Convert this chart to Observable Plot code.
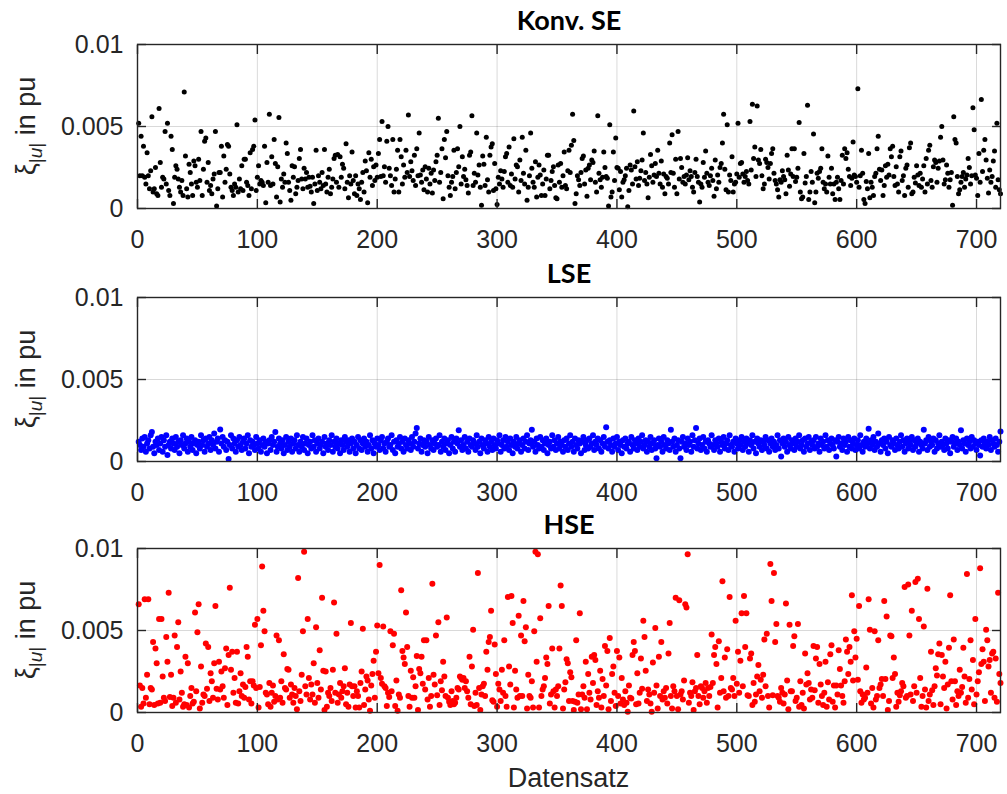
<!DOCTYPE html>
<html><head><meta charset="utf-8">
<script src="https://cdn.jsdelivr.net/npm/d3@7"></script>
<script src="https://cdn.jsdelivr.net/npm/@observablehq/plot@0.6"></script>
<style>
body{margin:0;background:#fff;}
#root{position:relative;width:1007px;height:794px;background:#fff;overflow:hidden;}
.panel{position:absolute;left:0;}
#xlabel{position:absolute;left:137px;width:863px;top:765px;line-height:27px;text-align:center;font-size:27px;color:#262626;font-family:"Liberation Sans",Arial,sans-serif;}
</style></head><body><div id="root"><div id="xlabel">Datensatz</div></div>
<script>
const titles = ["Konv. SE", "LSE", "HSE"];
const colors = ["#000000", "#0000ff", "#ff0000"];
const xTicks = [0, 100, 200, 300, 400, 500, 600, 700];
const yTicks = [0, 0.005, 0.01];
const yTickLabels = ["0", "0.005", "0.01"];
const xLabel = "Datensatz";
const unit = 1e-3; // values below are in 10^-3 pu

const konvSE = [
5.2,2.0,4.4,2.0,3.8,1.9,1.5,3.4,2.0,1.2,
2.3,5.6,1.0,1.2,2.5,0.9,0.8,6.1,2.8,1.3,
1.9,1.8,4.7,1.5,5.2,1.1,0.8,4.4,3.6,0.3,
1.9,2.6,2.4,1.8,1.3,1.0,1.7,0.8,7.1,3.2,
1.2,0.7,2.7,2.2,1.5,0.8,2.9,2.6,1.6,1.3,
3.0,1.7,4.7,0.8,2.4,4.1,4.3,1.6,2.8,1.1,
1.4,0.9,1.8,2.1,4.7,0.15,1.2,2.2,2.2,3.8,
0.7,3.2,1.6,2.4,3.9,3.8,2.1,1.3,1.1,0.8,
1.5,1.3,5.1,1.0,1.8,1.2,2.6,1.1,3.0,3.0,
1.6,1.4,0.8,3.4,1.2,3.6,3.8,5.4,1.1,1.9,
2.6,1.5,1.7,1.6,1.4,3.8,0.35,2.8,1.6,5.75,
1.4,3.15,1.5,4.2,2.75,0.7,2.55,5.55,0.4,1.8,
1.3,2.1,1.6,4.0,3.35,1.6,1.1,0.5,2.6,1.9,
2.55,0.9,1.3,1.7,3.05,3.6,1.8,1.2,2.45,1.8,
2.2,1.3,1.9,1.35,1.0,1.9,0.3,1.5,3.55,1.1,
2.0,1.6,1.2,2.2,1.4,3.6,1.5,1.0,1.9,2.4,
0.9,1.3,1.8,3.05,3.25,1.6,3.3,1.3,3.15,1.9,
2.7,2.45,1.2,3.95,1.6,0.65,2.0,1.5,3.45,1.7,
0.9,2.0,0.8,1.5,1.2,0.55,1.6,2.2,1.0,2.9,
2.3,0.35,3.4,1.9,3.0,1.4,2.55,1.7,2.65,1.9,
3.35,4.2,1.95,5.3,2.0,2.55,1.6,4.1,5.0,2.45,
2.0,1.4,4.2,1.0,1.8,2.4,3.55,1.0,4.2,3.15,
1.5,2.65,1.9,3.55,2.2,5.7,1.95,2.85,2.3,1.7,
3.25,1.4,3.65,2.0,4.6,2.05,1.6,2.35,1.15,2.55,
1.8,1.0,2.45,1.5,2.15,0.95,2.35,1.7,2.85,3.25,
5.5,1.6,2.2,3.65,0.6,4.2,3.1,4.7,2.0,1.3,
0.8,1.6,1.95,3.55,1.2,2.2,3.65,2.55,5.0,1.5,
3.15,1.95,2.4,1.75,1.4,0.95,3.25,3.45,5.65,1.4,
2.15,1.6,4.6,2.05,2.65,1.3,0.2,3.2,2.7,1.4,
4.35,1.75,1.0,3.25,3.75,3.95,1.1,2.75,1.2,0.25,
1.9,1.5,2.3,1.8,1.3,2.25,3.15,3.35,1.6,3.75,
1.4,2.1,1.3,4.25,1.8,2.65,2.55,1.0,2.95,1.7,
4.35,2.15,1.5,3.55,0.5,1.3,2.0,4.6,2.45,1.6,
1.3,2.85,0.7,1.9,2.65,2.05,0.8,1.5,2.35,0.8,
1.8,3.25,3.25,1.2,1.7,2.25,2.55,1.4,0.65,0.6,
2.65,1.6,2.75,1.3,2.0,3.45,1.4,1.2,2.3,3.55,
2.2,3.85,5.75,4.15,0.3,0.9,2.0,1.75,1.4,2.2,
3.05,3.2,1.5,2.35,0.75,2.45,2.65,1.75,2.95,2.8,
3.5,1.6,1.0,5.65,2.15,1.75,1.3,1.9,3.45,2.5,
1.95,1.85,0.15,5.1,0.7,1.0,3.45,1.7,4.3,2.5,
2.45,1.15,2.25,0.7,1.6,1.75,2.0,2.45,0.1,1.1,
2.65,2.35,1.5,5.95,2.55,1.8,2.85,1.4,1.85,2.3,
2.95,4.6,1.7,2.2,1.5,0.65,1.9,3.3,2.6,1.6,
2.05,2.75,1.95,3.55,2.15,1.5,2.9,1.3,2.1,0.9,
1.95,1.85,1.5,4.0,2.2,4.5,2.15,1.3,3.0,0.9,
4.7,1.8,3.05,2.5,1.6,1.95,1.5,2.05,3.1,1.75,
2.3,1.95,1.3,1.0,2.2,3.0,1.95,1.6,0.4,1.5,
1.3,2.8,1.9,3.5,2.15,1.6,1.4,2.0,2.45,1.7,
0.75,2.95,1.2,2.05,1.6,2.5,2.75,4.0,5.75,2.4,
1.15,5.1,1.0,2.05,1.7,3.15,1.0,1.5,1.6,2.1,
5.2,1.9,2.75,2.8,2.1,1.6,1.95,2.25,1.7,1.5,
5.3,2.35,6.35,3.05,3.75,1.95,6.25,2.95,2.75,3.6,
2.0,1.2,1.5,3.0,2.8,2.5,1.8,2.75,3.35,3.65,
2.15,1.7,1.5,1.15,0.7,1.75,1.6,2.3,1.95,1.75,
0.9,3.25,2.35,1.35,2.1,3.65,1.95,3.65,1.65,1.9,
2.45,5.25,1.0,0.6,0.7,3.35,1.55,1.95,6.3,0.55,
1.0,2.25,1.6,4.55,0.35,1.0,2.15,1.85,2.25,2.45,
3.65,1.6,1.2,1.5,1.0,3.2,1.9,1.5,2.45,0.9,
1.5,0.55,1.6,1.9,1.2,0.55,1.7,3.25,1.5,3.65,
3.05,3.4,2.4,1.95,1.4,1.85,4.05,2.05,1.95,1.6,
7.3,1.3,2.0,3.55,2.15,0.55,0.3,1.65,1.2,3.35,
0.65,1.6,1.3,0.8,1.95,2.15,3.65,4.4,2.4,1.7,
2.35,0.8,1.4,2.6,1.9,2.7,2.05,3.65,3.15,3.8,
1.95,1.4,2.55,1.5,1.0,3.15,3.5,1.7,2.0,0.8,
2.45,2.65,1.3,3.7,4.0,0.9,1.0,1.9,1.55,2.6,
2.05,1.4,2.15,1.3,1.8,2.6,1.0,3.05,1.5,3.55,
3.85,1.7,1.3,2.55,2.95,2.8,1.6,2.45,2.9,4.35,
5.0,2.95,1.5,1.75,2.65,2.15,1.3,1.75,2.2,0.2,
5.6,4.2,4.0,1.95,0.9,1.15,1.6,1.95,2.2,1.3,
1.8,2.05,3.05,2.5,1.5,2.0,6.15,4.8,2.05,1.85,
0.8,3.35,1.6,6.65,2.25,3.55,4.2,2.95,1.85,0.95,
2.35,1.6,1.95,2.9,3.5,1.3,5.2,1.75,1.15,0.9
];

const lse = [
1.2,1.0,0.7,1.4,0.9,1.5,0.6,1.1,1.3,0.8,
1.6,1.8,0.9,0.5,1.2,1.0,1.4,0.7,1.1,1.5,
0.6,1.3,0.9,1.6,0.4,1.0,1.2,0.8,1.4,1.1,
0.7,1.5,0.9,1.2,0.5,1.3,1.0,1.6,0.8,1.1,
1.4,0.6,1.2,0.9,1.5,0.7,1.1,1.3,0.5,1.0,
1.2,0.8,1.6,1.0,1.3,0.6,1.4,0.9,1.1,1.5,
0.7,1.3,1.0,1.7,0.8,1.2,1.4,0.6,1.95,1.1,
1.5,0.9,1.3,0.7,1.2,0.16,1.0,1.6,0.8,1.4,
1.1,0.6,1.3,0.9,1.5,1.0,0.7,1.2,1.4,0.8,
1.1,1.6,0.5,1.3,0.9,1.2,1.0,0.7,1.5,1.1,
0.8,1.3,0.6,1.0,1.4,0.9,1.2,0.5,1.1,1.3,
0.7,1.5,1.0,1.2,1.8,0.6,0.9,1.4,1.1,0.8,
1.3,0.5,1.0,1.5,0.7,1.2,0.9,1.4,0.6,1.1,
1.3,0.8,1.6,1.0,0.6,1.2,0.9,1.5,0.7,1.1,
1.4,0.5,1.0,1.2,0.8,1.6,0.9,1.3,0.6,1.1,
1.4,0.8,1.0,1.2,0.5,1.5,0.9,1.1,0.7,1.3,
1.0,1.6,0.6,1.2,0.9,1.4,0.8,1.1,0.5,1.3,
1.0,0.7,1.5,1.2,0.9,1.3,0.6,1.1,1.4,0.8,
1.2,0.5,1.0,1.5,0.8,1.3,0.7,1.1,1.4,0.9,
1.2,0.6,1.0,1.6,0.8,1.3,0.5,1.1,0.9,1.4,
1.0,0.7,1.3,1.5,0.8,1.1,0.6,1.2,1.4,0.9,
1.0,1.6,0.7,1.2,0.5,1.3,0.9,1.1,1.5,0.8,
1.2,0.6,1.4,1.0,0.8,1.3,1.1,0.7,1.5,0.9,
1.2,1.7,2.05,0.8,1.1,1.4,0.6,1.0,1.3,0.9,
1.2,0.5,1.5,1.0,0.8,1.3,0.7,1.1,1.4,0.9,
1.0,1.6,0.6,1.2,0.9,1.4,0.7,1.1,1.3,0.5,
1.0,1.5,0.8,1.2,0.6,1.4,1.1,1.9,0.9,1.3,
0.7,1.0,1.5,0.8,1.2,0.6,1.4,1.0,0.9,1.3,
1.1,0.7,1.6,0.9,1.2,0.5,1.4,1.0,0.8,1.3,
1.1,0.6,1.5,0.9,1.2,0.7,1.4,1.0,0.8,1.3,
1.1,1.6,0.6,1.0,1.3,0.8,1.5,0.9,1.2,0.7,
1.4,1.0,0.5,1.2,0.9,1.5,0.8,1.1,1.3,0.6,
1.0,1.4,0.8,1.2,1.6,0.7,1.1,1.3,1.93,0.9,
1.2,0.6,1.4,1.0,0.8,1.5,0.9,1.3,0.7,1.1,
1.4,0.5,1.0,1.2,0.8,1.6,0.9,1.3,0.7,1.1,
1.5,0.8,1.2,1.0,0.6,1.3,0.9,1.4,0.7,1.1,
1.6,0.9,1.2,0.6,1.4,1.0,0.8,1.3,1.1,0.5,
1.2,1.5,0.7,1.0,1.3,0.8,1.4,0.9,1.1,1.6,
0.7,1.2,1.0,1.4,0.8,1.3,0.6,1.1,1.5,0.9,
2.09,1.2,0.8,1.3,1.0,0.6,1.4,0.9,1.1,1.5,
0.7,1.2,1.0,0.5,1.3,0.9,1.4,0.8,1.1,1.2,
0.6,1.5,1.0,0.8,1.3,1.1,0.7,1.4,0.9,1.2,
1.6,0.8,1.0,1.3,0.6,1.2,0.9,1.5,0.7,1.1,
1.3,0.8,0.2,1.0,1.4,0.9,1.2,0.6,1.5,1.0,
0.8,1.3,1.1,0.7,1.93,1.2,0.9,1.4,0.6,1.0,
1.3,0.8,0.2,1.2,1.5,0.9,1.1,0.7,1.4,1.0,
1.2,0.6,1.6,0.9,1.3,2.05,0.8,1.1,1.4,0.7,
1.0,1.5,0.8,1.2,0.6,1.3,1.1,0.9,1.6,1.0,
0.7,1.3,1.1,0.9,1.4,0.6,1.2,1.0,1.5,0.8,
1.1,1.3,0.7,1.6,1.0,0.9,1.2,0.6,1.4,1.1,
0.8,1.3,1.0,1.5,0.7,1.2,0.9,1.4,1.1,0.6,
1.3,1.0,1.6,0.8,1.2,0.5,1.4,1.1,0.9,1.3,
0.7,1.2,1.0,1.5,0.8,1.3,0.6,1.1,1.4,0.9,
1.2,0.7,1.0,1.6,0.8,1.3,0.3,1.1,1.4,0.9,
1.2,0.6,1.5,1.0,0.8,1.3,1.1,0.7,1.4,0.9,
1.2,1.6,0.8,1.0,1.3,0.6,1.4,0.9,1.1,1.5,
0.7,1.2,1.0,1.3,0.8,1.5,0.9,1.1,0.6,1.4,
1.0,1.2,0.8,1.6,0.9,1.3,0.7,1.1,1.4,1.0,
0.8,1.3,0.3,1.2,1.5,0.9,1.1,0.7,1.4,1.0,
1.2,0.6,1.5,0.9,1.3,0.8,1.1,1.4,0.7,1.0,
1.3,0.8,1.6,1.0,0.6,1.2,0.9,1.4,1.1,2.0,
0.8,1.3,1.0,1.5,0.7,1.2,0.9,1.7,1.1,0.6,
1.3,1.0,1.4,0.8,1.2,0.5,1.5,1.0,0.9,1.3,
1.1,0.7,1.4,1.0,0.8,1.2,1.6,0.9,1.3,0.6,
1.1,1.4,0.8,1.2,1.0,1.5,0.7,1.3,0.9,1.1,
1.4,0.6,1.2,1.0,0.8,1.93,1.1,1.3,0.7,1.5,
0.9,1.2,1.0,1.4,0.6,1.3,0.8,1.1,1.6,0.9,
1.2,1.0,0.7,1.4,1.1,0.8,1.3,0.5,1.2,1.5,
0.9,1.1,1.4,0.7,1.2,1.0,1.9,0.8,1.3,1.1,
0.6,1.4,1.0,1.2,0.8,1.5,0.9,1.3,1.1,0.7,
1.2,1.0,0.37,1.3,0.9,1.4,1.1,0.8,1.2,1.0,
1.5,0.7,1.3,1.1,0.9,1.4,1.0,0.6,1.2,1.83
];

const hse = [
6.6,1.65,0.35,1.5,0.55,6.9,0.9,2.3,6.9,0.5,
1.5,1.4,4.3,0.45,3.9,3.0,0.55,5.7,0.6,5.7,
2.2,0.9,0.7,4.6,3.1,7.3,0.95,2.3,0.4,0.9,
4.7,0.6,4.0,5.5,0.8,2.5,1.2,0.35,0.5,3.4,
0.45,3.0,0.3,1.0,1.5,0.55,0.65,6.1,1.3,4.9,
6.6,0.25,2.8,0.6,1.1,1.0,4.2,1.45,4.0,0.7,
2.4,1.9,0.9,3.0,6.5,1.45,0.8,3.1,1.4,2.5,
1.6,0.9,2.7,3.9,0.45,3.5,7.6,2.6,3.7,1.2,
2.1,0.6,3.7,0.55,1.3,2.4,1.0,1.7,0.9,1.55,
4.0,3.4,0.8,1.9,0.55,1.9,1.65,5.35,1.5,5.7,
0.3,1.55,4.1,8.9,6.2,4.95,1.2,1.1,0.5,1.8,
0.35,1.2,1.65,0.65,1.0,4.7,0.8,4.4,0.9,1.9,
0.6,3.55,1.5,1.4,2.65,2.6,0.9,1.7,1.1,0.6,
1.5,1.0,0.2,8.2,1.3,0.7,2.3,4.95,9.8,1.6,
1.1,5.7,2.1,0.8,1.7,1.1,3.0,0.6,5.2,1.8,
0.9,3.8,1.4,7.0,2.55,0.15,2.5,0.35,1.2,1.0,
1.5,0.7,2.6,6.7,1.2,4.8,0.6,1.1,1.8,0.9,
1.3,1.6,2.7,0.5,1.2,0.35,1.7,5.45,1.6,1.0,
1.6,0.3,1.3,1.0,0.3,1.8,2.5,5.1,0.45,1.4,
2.2,1.95,0.8,0.1,1.65,2.35,3.15,0.9,3.7,5.3,
2.4,9.0,2.1,1.75,5.25,1.6,1.5,0.4,1.2,0.95,
4.95,1.3,4.1,4.8,0.4,1.95,0.1,1.1,0.9,7.45,
3.75,3.35,2.95,6.1,4.0,1.0,0.35,2.55,0.9,2.15,
0.9,1.6,3.45,0.15,2.65,2.4,3.4,1.75,4.4,1.4,
4.4,0.8,2.1,0.35,1.0,7.85,2.3,1.7,4.7,1.05,
5.5,0.45,1.9,1.35,3.1,2.2,1.0,5.8,0.9,0.65,
0.45,1.3,0.7,0.5,0.6,0.9,1.5,1.4,2.2,2.1,
2.0,2.1,1.5,1.9,1.3,0.9,3.4,0.5,2.8,5.05,
0.4,1.2,0.45,8.5,1.5,0.15,1.1,1.6,1.75,1.0,
3.7,2.6,4.3,4.6,6.2,0.75,0.65,4.15,2.35,0.35,
1.75,1.4,0.7,2.6,1.2,4.4,1.0,0.35,7.05,2.8,
1.7,7.1,5.45,0.3,2.55,1.4,0.9,5.9,1.0,4.7,
1.0,6.8,4.35,5.2,0.25,2.3,1.0,0.9,1.9,0.3,
4.95,9.8,3.1,9.65,0.3,5.75,1.0,1.4,1.6,2.1,
3.35,2.95,6.5,0.55,1.1,3.9,1.3,0.3,1.4,1.0,
1.6,3.9,7.75,6.5,0.25,1.4,1.85,3.25,3.0,0.7,
2.45,2.15,0.7,0.15,0.65,4.4,0.6,1.1,6.05,0.2,
1.1,1.6,0.9,3.1,0.2,2.35,1.2,0.8,3.4,1.8,
3.5,3.2,0.45,1.3,0.9,2.55,0.3,2.05,1.0,4.05,
1.65,3.75,0.2,4.55,0.7,2.35,2.8,1.2,0.4,3.75,
1.0,3.35,0.55,2.1,0.8,0.45,1.3,0.6,0.05,1.65,
0.9,0.85,3.5,4.3,3.75,0.5,2.4,0.55,1.2,3.3,
1.45,5.6,4.6,2.55,0.7,1.4,1.1,0.55,0.05,3.05,
1.2,5.15,1.65,0.25,3.4,1.0,4.3,0.8,1.3,0.9,
1.5,0.55,3.6,5.45,1.0,0.25,1.6,1.3,7.0,1.0,
0.2,6.85,1.1,1.3,0.8,1.95,6.6,6.4,9.65,0.6,
1.2,1.0,1.85,0.15,1.3,1.5,3.5,1.0,0.5,1.6,
1.5,0.9,1.3,1.8,0.6,1.5,1.0,1.55,4.75,1.8,
3.5,4.0,2.95,0.3,4.35,1.2,2.1,8.0,1.3,3.35,
0.9,3.85,1.0,7.05,1.5,1.4,2.1,1.0,5.6,1.75,
3.7,1.2,3.15,6.05,1.6,7.1,4.0,6.05,1.05,1.0,
3.3,3.6,0.45,1.8,0.65,1.1,2.2,2.9,1.3,2.0,
0.9,2.3,4.45,1.6,4.8,1.0,0.3,9.05,6.8,1.05,
8.5,4.3,5.4,1.0,0.9,0.65,1.5,1.2,0.55,1.1,
6.65,1.95,0.2,5.35,1.3,1.3,4.05,4.65,0.7,0.9,
5.4,0.35,1.9,0.45,1.2,0.25,3.6,1.7,2.4,1.8,
0.8,1.4,0.9,4.05,1.35,3.3,4.0,0.6,2.95,1.7,
1.0,0.45,1.2,3.1,0.35,1.85,0.8,3.55,4.1,0.65,
1.65,0.3,1.65,1.1,3.8,2.65,1.65,1.0,0.6,1.9,
4.45,3.7,2.35,4.0,3.1,7.15,1.95,4.95,3.35,4.5,
2.0,6.5,1.3,0.6,1.1,0.8,0.9,2.75,1.2,6.9,
5.05,0.55,1.5,0.3,4.95,0.8,1.0,4.4,1.5,1.7,
2.05,1.0,6.8,2.05,5.85,0.15,0.7,4.7,4.65,2.1,
3.35,2.35,0.35,1.2,0.65,1.05,1.3,1.8,1.6,7.65,
0.9,1.0,7.8,4.7,1.1,6.2,0.7,1.6,7.95,1.2,
8.15,5.7,2.1,0.35,1.0,5.25,1.4,0.3,7.55,0.7,
1.1,3.7,1.35,0.45,1.6,2.7,2.25,3.55,4.2,0.5,
3.5,2.2,1.5,3.1,0.25,1.7,3.95,7.15,1.9,0.8,
4.45,1.9,0.45,1.3,1.0,2.6,1.2,1.55,3.95,2.2,
0.6,8.45,0.9,2.05,4.4,1.4,3.2,0.5,5.7,1.1,
1.9,2.45,8.8,2.95,3.85,3.1,0.7,5.05,4.4,2.8,
3.2,1.2,3.6,3.7,0.9,3.3,0.65,7.3,2.35,1.8
];

const series = [konvSE, lse, hse];
const dotRadius = [2.5, 3, 3];
const panelTops = [0, 253, 504];
const ink = "#262626";
const tickLen = 9;
const root = document.getElementById("root");

series.forEach((vals, k) => {
  const data = vals.map((v, i) => ({x: i + 1, y: v * unit}));
  const chart = Plot.plot({
    width: 1007, height: 250,
    marginLeft: 137, marginRight: 7, marginTop: 44, marginBottom: 42,
    x: {domain: [0, 720], label: null},
    y: {domain: [0, 0.01], label: null},
    style: {fontFamily: "'Liberation Sans', Arial, sans-serif", fontSize: "25px", color: ink, background: "transparent", overflow: "visible"},
    marks: [
      Plot.gridX(xTicks, {stroke: "#000", strokeOpacity: 0.15, strokeWidth: 1}),
      Plot.gridY(yTicks, {stroke: "#000", strokeOpacity: 0.15, strokeWidth: 1}),
      Plot.dot(data, {x: "x", y: "y", r: dotRadius[k], fill: colors[k], stroke: "none"}),
      Plot.axisX(xTicks, {anchor: "bottom", tickSize: 0, tickPadding: 22, label: null, fontSize: 25}),
      Plot.axisX(xTicks, {anchor: "bottom", tickSize: tickLen, dy: -tickLen, text: null, label: null, stroke: ink, strokeWidth: 1.4}),
      Plot.axisX(xTicks, {anchor: "top", tickSize: tickLen, dy: tickLen, text: null, label: null, stroke: ink, strokeWidth: 1.4}),
      Plot.axisY(yTicks, {anchor: "left", tickSize: 0, tickPadding: 14, label: null, fontSize: 25,
        tickFormat: d => yTickLabels[yTicks.indexOf(d)]}),
      Plot.axisY(yTicks, {anchor: "left", tickSize: tickLen, dx: tickLen, text: null, label: null, stroke: ink, strokeWidth: 1.4}),
      Plot.axisY(yTicks, {anchor: "right", tickSize: tickLen, dx: -tickLen, text: null, label: null, stroke: ink, strokeWidth: 1.4}),
      Plot.frame({stroke: ink, strokeWidth: 1.4}),
      Plot.text([titles[k]], {text: d => d, frameAnchor: "top", dy: -15, lineAnchor: "bottom",
        fontWeight: "bold", fontSize: 27, fontFamily: "Lato, 'Open Sans', sans-serif", fill: "#000"})
    ]
  });
  const svg = d3.select(chart);
  const lbl = svg.append("text")
    .attr("transform", `translate(35,126) rotate(-90)`)
    .attr("text-anchor", "middle")
    .attr("fill", ink)
    .style("font-family", "'Liberation Sans', Arial, sans-serif")
    .style("font-size", "27px");
  lbl.append("tspan").text("ξ");
  const sub = lbl.append("tspan").attr("dy", 7).style("font-size", "19px");
  sub.append("tspan").text("|");
  sub.append("tspan").style("font-style", "italic").text("u");
  sub.append("tspan").text("|");
  lbl.append("tspan").attr("dy", -7).text(" in pu");
  const wrap = document.createElement("div");
  wrap.className = "panel";
  wrap.style.top = panelTops[k] + "px";
  wrap.appendChild(chart);
  root.appendChild(wrap);
});
document.getElementById("xlabel").textContent = xLabel;
</script>
</body></html>
